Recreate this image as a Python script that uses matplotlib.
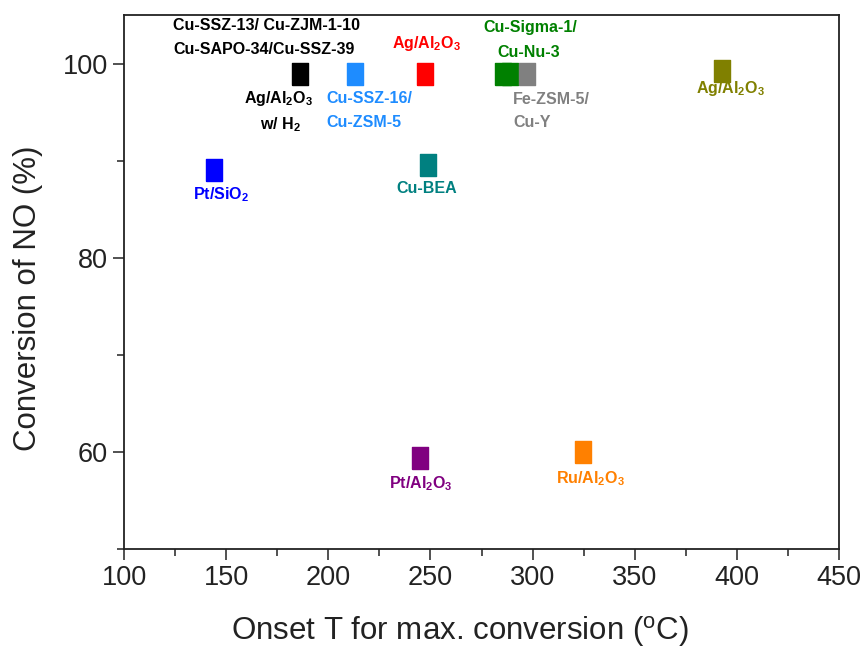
import matplotlib.pyplot as plt
from matplotlib.ticker import MultipleLocator

plt.rcParams['font.family'] = ['Liberation Sans', 'DejaVu Sans']
plt.rcParams['mathtext.fontset'] = 'custom'
plt.rcParams['mathtext.rm'] = 'Liberation Sans'
plt.rcParams['mathtext.bf'] = 'Liberation Sans:bold'

# onset temperature (C) and NO conversion (%) per catalyst group
catalysts = ['Cu-SSZ-13 group', 'Cu-SSZ-16/Cu-ZSM-5', 'Ag/Al2O3', 'Cu-Sigma-1', 'Cu-Nu-3',
             'Fe-ZSM-5/Cu-Y', 'Ag/Al2O3 (2)', 'Pt/SiO2', 'Cu-BEA', 'Pt/Al2O3', 'Ru/Al2O3']
onset_T = [186, 213, 247.5, 285.7, 289, 297.5, 392.5, 144, 249, 245, 324.5]
conversion = [98.9, 98.9, 98.9, 98.9, 98.9, 98.9, 99.2, 89.0, 89.6, 59.4, 60.0]
colors = ['#000000', '#1E8CFF', '#FF0000', '#008000', '#008000', '#808080',
          '#808000', '#0000FF', '#008080', '#800080', '#FF8000']

# label text, position, colour, alignment
sub = lambda s: s.replace('Al2O3', r'Al$_\mathbf{2}$O$_\mathbf{3}$').replace('SiO2', r'SiO$_\mathbf{2}$').replace('H2', r'H$_\mathbf{2}$')
labels = [
    ('Cu-SSZ-13/ Cu-ZJM-1-10', 124, 103.9, '#000000', 'left'),
    ('Cu-SAPO-34/Cu-SSZ-39', 124, 101.4, '#000000', 'left'),
    ('Ag/Al2O3', 175.5, 96.4, '#000000', 'center'),
    ('w/ H2', 176.5, 93.7, '#000000', 'center'),
    ('Cu-SSZ-16/', 199, 96.4, '#1E8CFF', 'left'),
    ('Cu-ZSM-5', 199, 93.9, '#1E8CFF', 'left'),
    ('Ag/Al2O3', 248, 102.1, '#FF0000', 'center'),
    ('Cu-Sigma-1/', 299, 103.7, '#008000', 'center'),
    ('Cu-Nu-3', 298, 101.1, '#008000', 'center'),
    ('Fe-ZSM-5/', 290.4, 96.3, '#808080', 'left'),
    ('Cu-Y', 290.4, 93.9, '#808080', 'left'),
    ('Ag/Al2O3', 397, 97.4, '#808000', 'center'),
    ('Pt/SiO2', 147.5, 86.5, '#0000FF', 'center'),
    ('Cu-BEA', 248, 87.1, '#008080', 'center'),
    ('Pt/Al2O3', 245.5, 56.7, '#800080', 'center'),
    ('Ru/Al2O3', 328.5, 57.2, '#FF8000', 'center'),
]

fig = plt.figure(figsize=(8.63, 6.5), dpi=100)
ax = fig.add_axes([0.1437, 0.1554, 0.8285, 0.8215])

rect = [(-0.37, -0.5), (0.37, -0.5), (0.37, 0.5), (-0.37, 0.5), (-0.37, -0.5)]
for x, y, c in zip(onset_T, conversion, colors):
    ax.plot(x, y, marker=rect, markersize=16.5, color=c, markeredgecolor=c,
            linestyle='none')

for txt, x, y, c, ha in labels:
    ax.text(x, y, sub(txt), color=c, ha=ha, va='center', fontsize=11.5,
            fontweight='bold')

ax.set_xlim(100, 450)
ax.set_ylim(50, 105)
ax.xaxis.set_major_locator(MultipleLocator(50))
ax.xaxis.set_minor_locator(MultipleLocator(25))
ax.yaxis.set_major_locator(MultipleLocator(20))
ax.yaxis.set_minor_locator(MultipleLocator(10))
ax.tick_params(which='both', direction='out', top=False, right=False,
               labelsize=19.5, width=1.2, color='#333333', labelcolor='#222222')
ax.tick_params(which='major', length=8)
ax.tick_params(which='minor', length=5)
for s in ax.spines.values():
    s.set_linewidth(1.3)
    s.set_color('#222222')

ax.set_xlabel(r'Onset T for max. conversion ($^\mathrm{o}$C)', fontsize=22.5,
              color='#222222')
ax.set_ylabel('Conversion of NO (%)', fontsize=22.5, color='#222222')
ax.xaxis.set_label_coords(0.47, -0.122)
ax.yaxis.set_label_coords(-0.113, 0.469)

fig.savefig('out.png', dpi=100)
